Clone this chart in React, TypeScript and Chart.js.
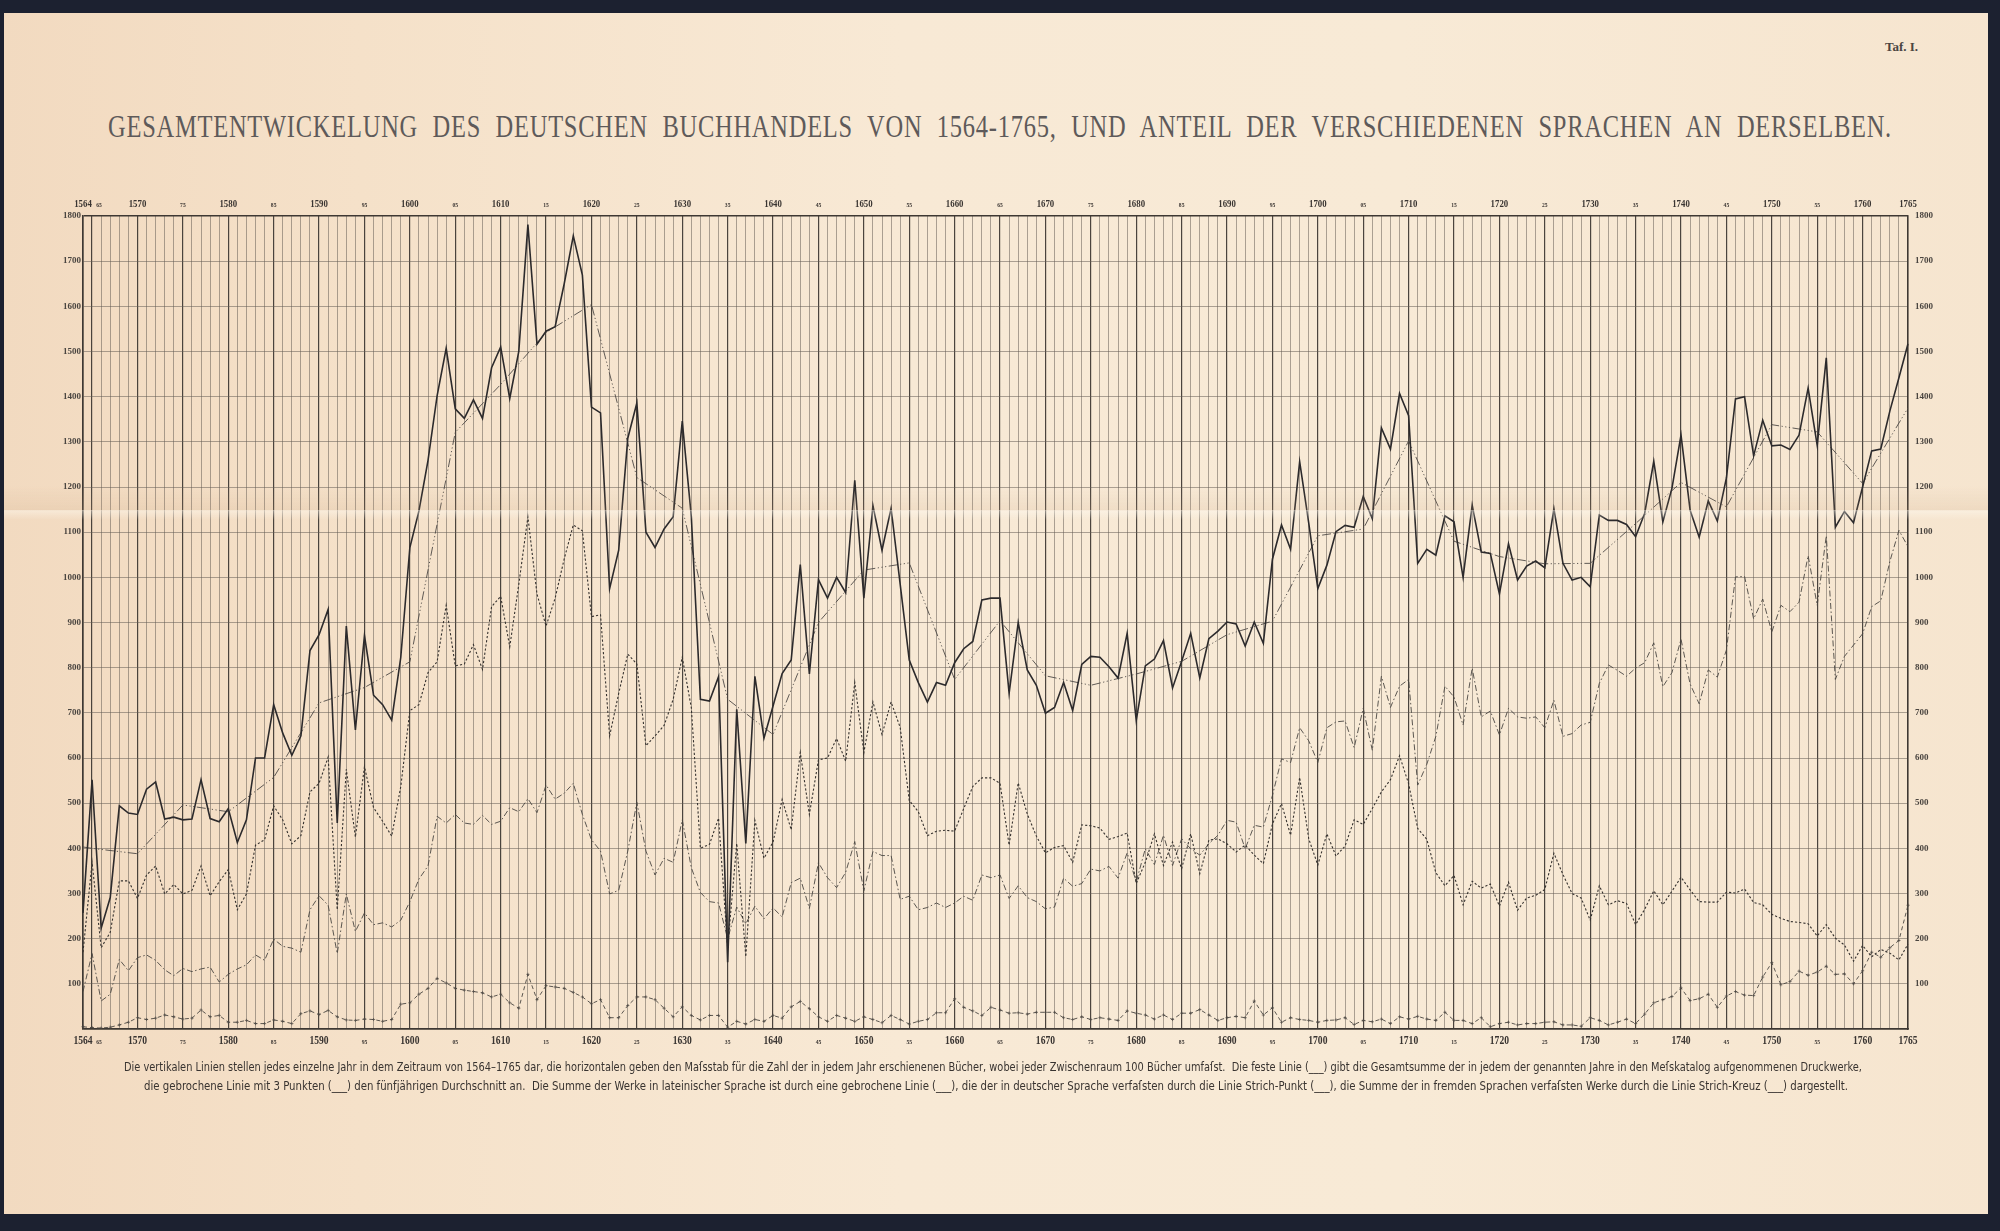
import React, { useEffect, useLayoutEffect, useRef } from "react";
import { Chart, registerables } from "chart.js";

Chart.register(...registerables);

// ---------- DATA ----------
const YEAR_START = 1564;
const YEAR_END = 1765;
const YEARS: number[] = Array.from({ length: YEAR_END - YEAR_START + 1 }, (_, i) => YEAR_START + i);

// Gesamtsumme (feste Linie), 1564–1765
const TOTAL = [
  257, 552, 223, 291, 494, 478,
  475, 531, 547, 465, 469, 463, 465, 552, 466, 459,
  488, 413, 463, 600, 600, 718, 655, 606, 649, 838,
  873, 929, 456, 892, 662, 871, 739, 718, 684, 823,
  1066, 1147, 1259, 1402, 1507, 1373, 1352, 1393, 1352, 1464,
  1510, 1396, 1501, 1781, 1516, 1545, 1555, 1650, 1756, 1669,
  1377, 1364, 975, 1060, 1308, 1386, 1100, 1066, 1107, 1134,
  1346, 1134, 730, 726, 780, 148, 708, 411, 781, 644,
  715, 787, 817, 1028, 786, 995, 954, 1000, 966, 1215,
  954, 1159, 1060, 1153, 985, 817, 767, 724, 767, 761,
  811, 842, 858, 950, 954, 954, 743, 900, 795, 761,
  699, 712, 767, 705, 807, 825, 823, 802, 777, 876,
  683, 804, 819, 860, 755, 814, 876, 777, 864, 881,
  901, 897, 848, 901, 854, 1040, 1116, 1062, 1256, 1120,
  975, 1027, 1101, 1115, 1111, 1179, 1130, 1331, 1284, 1407,
  1358, 1031, 1062, 1049, 1136, 1123, 1000, 1160, 1056, 1053,
  963, 1074, 994, 1025, 1036, 1021, 1152, 1031, 994, 1000,
  979, 1138, 1126, 1126, 1117, 1090, 1142, 1257, 1123, 1197,
  1315, 1149, 1089, 1169, 1125, 1220, 1395, 1400, 1269, 1348,
  1291, 1293, 1283, 1315, 1419, 1292, 1486, 1111, 1146, 1121,
  1200, 1280, 1284, 1368, 1442, 1517,
];

// Lateinische Sprache (gebrochene Linie)
const LATIN = [
  170, 369, 180, 214, 328, 328,
  289, 341, 361, 299, 320, 299, 307, 361, 295, 326,
  353, 264, 299, 407, 419, 494, 463, 410, 428, 525,
  544, 602, 264, 575, 425, 581, 490, 460, 427, 537,
  705, 718, 789, 813, 938, 804, 808, 851, 796, 935,
  958, 846, 985, 1134, 963, 892, 954, 1041, 1116, 1103,
  913, 917, 649, 743, 830, 808, 627, 649, 672, 730,
  823, 711, 400, 409, 467, 180, 411, 160, 462, 378,
  414, 508, 441, 612, 475, 596, 600, 643, 593, 767,
  612, 724, 652, 724, 668, 506, 481, 428, 438, 440,
  438, 488, 537, 556, 556, 544, 407, 545, 476, 427,
  390, 402, 406, 369, 452, 450, 445, 420, 426, 434,
  322, 369, 432, 362, 414, 355, 432, 344, 418, 421,
  410, 392, 407, 385, 366, 454, 499, 429, 557, 421,
  363, 432, 383, 405, 463, 453, 488, 525, 552, 605,
  543, 444, 420, 346, 317, 340, 275, 327, 312, 321,
  272, 325, 263, 290, 296, 309, 389, 342, 300, 290,
  241, 317, 275, 284, 278, 231, 265, 306, 275, 305,
  336, 308, 282, 281, 281, 303, 301, 310, 280, 275,
  254, 245, 238, 236, 233, 206, 231, 201, 186, 150,
  185, 160, 176, 168, 153, 188,
];

// Deutsche Sprache (Strich-Punkt)
const GERMAN = [
  83, 167, 62, 77, 154, 129,
  158, 164, 152, 131, 118, 134, 127, 133, 137, 104,
  121, 133, 142, 164, 152, 199, 183, 179, 170, 264,
  295, 274, 167, 299, 216, 257, 231, 235, 226, 241,
  282, 332, 361, 471, 456, 475, 456, 453, 473, 453,
  460, 490, 481, 510, 479, 540, 509, 522, 544, 475,
  419, 394, 299, 307, 394, 502, 394, 341, 378, 369,
  463, 357, 302, 282, 279, 200, 270, 233, 272, 244,
  268, 248, 324, 334, 267, 368, 335, 313, 347, 415,
  306, 393, 384, 384, 287, 294, 264, 269, 279, 269,
  279, 294, 285, 341, 335, 341, 289, 317, 291, 282,
  266, 270, 334, 316, 322, 354, 350, 360, 334, 390,
  326, 399, 364, 429, 362, 421, 399, 385, 410, 429,
  462, 458, 399, 451, 447, 517, 598, 590, 667, 638,
  590, 667, 680, 682, 623, 710, 617, 781, 712, 759,
  774, 540, 586, 648, 759, 735, 673, 799, 691, 704,
  651, 710, 691, 688, 691, 667, 728, 648, 654, 673,
  679, 765, 806, 794, 781, 799, 811, 855, 758, 789,
  863, 764, 720, 795, 779, 839, 1001, 1002, 908, 952,
  879, 938, 924, 945, 1048, 938, 1092, 774, 825, 850,
  875, 935, 948, 1035, 1104, 1068,
];

// Fremde Sprachen (Strich-Kreuz)
const FOREIGN = [
  5, 3, 2, 4, 9, 15,
  25, 21, 24, 31, 27, 22, 24, 42, 27, 30,
  15, 15, 19, 12, 12, 20, 17, 12, 34, 40,
  32, 41, 27, 20, 19, 22, 21, 17, 21, 55,
  58, 77, 90, 112, 102, 90, 86, 83, 80, 71,
  77, 58, 46, 121, 65, 96, 93, 90, 81, 71,
  56, 65, 25, 25, 52, 71, 71, 65, 46, 27,
  49, 30, 20, 30, 30, 4, 17, 11, 21, 17,
  30, 24, 49, 61, 45, 27, 17, 30, 24, 17,
  27, 21, 14, 30, 21, 11, 17, 21, 36, 36,
  67, 48, 40, 30, 48, 42, 35, 36, 33, 37,
  37, 37, 25, 21, 27, 21, 25, 22, 19, 40,
  35, 31, 22, 31, 21, 35, 35, 43, 31, 19,
  25, 28, 25, 62, 31, 47, 15, 25, 21, 19,
  15, 19, 20, 25, 10, 19, 16, 22, 12, 27,
  22, 28, 22, 19, 37, 19, 19, 12, 25, 5,
  12, 15, 9, 12, 12, 15, 16, 9, 9, 6,
  25, 19, 9, 15, 22, 12, 33, 58, 65, 72,
  91, 63, 67, 77, 48, 73, 83, 75, 74, 115,
  147, 98, 105, 128, 119, 126, 139, 121, 122, 100,
  129, 170, 159, 180, 196, 274,
];

// Fünfjähriger Durchschnitt (gebrochene Linie mit 3 Punkten) – Knotenpunkte
const AVG_YEARS = [
  1564, 1565, 1570, 1575, 1580, 1585, 1590, 1595, 1600, 1605, 1610, 1615, 1620, 1625,
  1630, 1635, 1640, 1645, 1650, 1655, 1660, 1665, 1670, 1675, 1680, 1685, 1690, 1695,
  1700, 1705, 1710, 1715, 1720, 1725, 1730, 1735, 1740, 1745, 1750, 1755, 1760, 1765,
];
const AVG_VALUES = [
  403, 400, 388, 496, 481, 557, 722, 756, 813, 1321, 1427, 1542, 1604, 1221,
  1153, 730, 652, 900, 1016, 1032, 774, 904, 782, 761, 786, 814, 873, 903,
  1092, 1107, 1302, 1080, 1046, 1030, 1031, 1119, 1210, 1156, 1338, 1322, 1208, 1375,
];

const Y_MIN = 0;
const Y_MAX = 1800;
const Y_STEP = 100;

const TITLE = "GESAMTENTWICKELUNG DES DEUTSCHEN BUCHHANDELS VON 1564-1765, UND ANTEIL DER VERSCHIEDENEN SPRACHEN AN DERSELBEN.";
const PLATE = "Taf. I.";
const CAPTION_1 =
  "Die vertikalen Linien stellen jedes einzelne Jahr in dem Zeitraum von 1564–1765 dar, die horizontalen geben den Maſsstab für die Zahl der in jedem Jahr erschienenen Bücher, wobei jeder Zwischenraum 100 Bücher umfaſst.  Die feste Linie (___) gibt die Gesamtsumme der in jedem der genannten Jahre in den Meſskatalog aufgenommenen Druckwerke,";
const CAPTION_2 =
  "die gebrochene Linie mit 3 Punkten (___) den fünfjährigen Durchschnitt an.  Die Summe der Werke in lateinischer Sprache ist durch eine gebrochene Linie (___), die der in deutscher Sprache verfaſsten durch die Linie Strich-Punkt (___), die Summe der in fremden Sprachen verfaſsten Werke durch die Linie Strich-Kreuz (___) dargestellt.";

// ---------- STYLE ----------
const INK = "#2c2a2c";
const INK_SOFT = "#4a4642";
const GRID_LIGHT = "rgba(98, 90, 82, 0.62)";
const GRID_DARK = "rgba(55, 50, 46, 0.9)";
const BORDER = "#3e3833";

function FitText(props: { text: string; left: number; top: number; width: number; style: React.CSSProperties }) {
  const ref = useRef<HTMLSpanElement>(null);
  useLayoutEffect(() => {
    const el = ref.current;
    if (!el) return;
    el.style.transform = "none";
    const w = el.getBoundingClientRect().width;
    if (w > 0) el.style.transform = `scaleX(${props.width / w})`;
  }, [props.text, props.width]);
  return (
    <span
      ref={ref}
      style={{
        position: "absolute",
        left: props.left,
        top: props.top,
        whiteSpace: "pre",
        transformOrigin: "0 0",
        display: "inline-block",
        ...props.style,
      }}
    >
      {props.text}
    </span>
  );
}

const paperPlugin = {
  id: "paperCrease",
  afterDraw(chart: any) {
    const { ctx } = chart;
    ctx.save();
    // shadow of the fold
    const g1 = ctx.createLinearGradient(0, 486, 0, 511);
    g1.addColorStop(0, "rgba(200,160,120,0)");
    g1.addColorStop(1, "rgba(200,160,120,0.16)");
    ctx.fillStyle = g1;
    ctx.fillRect(0, 486, chart.width, 25);
    // light ridge just below
    const g2 = ctx.createLinearGradient(0, 510, 0, 520);
    g2.addColorStop(0, "rgba(255,252,244,0.45)");
    g2.addColorStop(1, "rgba(255,252,244,0)");
    ctx.fillStyle = g2;
    ctx.fillRect(0, 510, chart.width, 10);
    ctx.restore();
  },
};

const yearLabelsPlugin = {
  id: "yearLabels",
  afterDraw(chart: any) {
    const { ctx, chartArea } = chart;
    const xs = chart.scales.x;
    ctx.save();
    ctx.fillStyle = "#3a3532";
    ctx.textAlign = "center";
    ctx.textBaseline = "alphabetic";
    YEARS.forEach((yr, i) => {
      let label = "";
      let big = false;
      if (yr === YEAR_START || yr === YEAR_END || yr % 10 === 0) {
        label = String(yr);
        big = true;
      } else if (yr % 5 === 0) {
        label = String(yr).slice(2);
      }
      if (!label) return;
      const dx = yr === YEAR_START + 1 ? 7 : 0;
      const x = xs.getPixelForTick(i) + dx;
      const rows: [number, string, string][] = [
        [chartArea.top - 9, 'bold 11px "Liberation Serif"', 'bold 7px "Liberation Serif"'],
        [chartArea.bottom + 15, 'bold 12px "Liberation Serif"', 'bold 7px "Liberation Serif"'],
      ];
      for (const [y, fBig, fSmall] of rows) {
        ctx.save();
        ctx.translate(x, y);
        ctx.scale(0.8, 1);
        ctx.font = big ? fBig : fSmall;
        ctx.fillText(label, 0, 0);
        ctx.restore();
      }
    });
    ctx.restore();
  },
};

export default function App() {
  const canvasRef = useRef<HTMLCanvasElement>(null);

  useEffect(() => {
    document.body.style.margin = "0";
    document.body.style.overflow = "hidden";
    const canvas = canvasRef.current;
    if (!canvas) return;

    const avgData = YEARS.map((y) => {
      const k = AVG_YEARS.indexOf(y);
      return k >= 0 ? AVG_VALUES[k] : null;
    });

    const yTickFont = { family: '"Liberation Serif"', size: 9, weight: "bold" as const };
    const isFive = (c: any) => YEARS[c.index] % 5 === 0;
    const isEdge = (c: any) => c.tick && (c.tick.value === Y_MAX || c.tick.value === Y_MIN);

    const chart = new Chart(canvas, {
      type: "line",
      data: {
        labels: YEARS.map(String),
        datasets: [
          {
            label: "Gesamtsumme",
            data: TOTAL,
            borderColor: INK,
            borderWidth: 1.6,
            pointRadius: 0,
            tension: 0,
          },
          {
            label: "Fünfjähriger Durchschnitt",
            data: avgData,
            spanGaps: true,
            borderColor: "#4e4946",
            borderWidth: 0.9,
            borderDash: [9, 2.5, 1.2, 2.5, 1.2, 2.5, 1.2, 2.5],
            pointRadius: 0,
            tension: 0,
          },
          {
            label: "Lateinisch",
            data: LATIN,
            borderColor: "#36322f",
            borderWidth: 1.1,
            borderDash: [2.2, 2],
            pointRadius: 0,
            tension: 0,
          },
          {
            label: "Deutsch",
            data: GERMAN,
            borderColor: INK_SOFT,
            borderWidth: 0.9,
            borderDash: [6, 2.5, 1.5, 2.5],
            pointRadius: 0,
            tension: 0,
          },
          {
            label: "Fremde Sprachen",
            data: FOREIGN,
            borderColor: INK_SOFT,
            borderWidth: 0.9,
            borderDash: [4, 3],
            pointStyle: "cross",
            pointRadius: 1.6,
            pointBorderWidth: 0.7,
            pointBorderColor: INK_SOFT,
            tension: 0,
          },
        ],
      },
      options: {
        responsive: false,
        animation: false,
        devicePixelRatio: 1,
        events: [],
        layout: { padding: { left: 43, right: 52, top: 216, bottom: 202 } },
        plugins: {
          legend: { display: false },
          tooltip: { enabled: false },
          title: { display: false },
        },
        scales: {
          x: {
            type: "category",
            offset: false,
            ticks: { display: false },
            grid: {
              drawTicks: false,
              color: (c: any) => (isFive(c) ? GRID_DARK : GRID_LIGHT),
              lineWidth: (c: any) => (isFive(c) ? 1.2 : 0.85),
            },
            border: { display: true, color: BORDER, width: 1.5 },
            afterFit: (s: any) => {
              s.height = 0;
            },
          },
          y: {
            position: "left",
            min: Y_MIN,
            max: Y_MAX,
            ticks: {
              stepSize: Y_STEP,
              padding: 2,
              color: "#4a4540",
              font: yTickFont,
              callback: (v: any) => (v === 0 ? "" : String(v)),
            },
            grid: {
              drawTicks: false,
              color: (c: any) => (isEdge(c) ? BORDER : GRID_LIGHT),
              lineWidth: (c: any) => (isEdge(c) ? 1.5 : 0.85),
            },
            border: { display: true, color: BORDER, width: 1.5 },
            afterFit: (s: any) => {
              s.width = 40;
            },
          },
          y2: {
            position: "right",
            min: Y_MIN,
            max: Y_MAX,
            ticks: {
              stepSize: Y_STEP,
              padding: 7,
              color: "#4a4540",
              font: yTickFont,
              callback: (v: any) => (v === 0 ? "" : String(v)),
            },
            grid: { display: false, drawTicks: false },
            border: { display: true, color: BORDER, width: 1.5 },
            afterFit: (s: any) => {
              s.width = 40;
            },
          },
        },
      },
      plugins: [paperPlugin, yearLabelsPlugin],
    });

    return () => chart.destroy();
  }, []);

  return (
    <div
      style={{
        position: "absolute",
        left: 0,
        top: 0,
        width: 2000,
        height: 1231,
        overflow: "hidden",
        background:
          "linear-gradient(90deg, #f2dac0 0%, #f5e1c9 18%, #f8e9d5 45%, #f8ead6 70%, #f6e5cf 100%)",
      }}
    >
      <FitText
        text={TITLE}
        left={108}
        top={110}
        width={1784}
        style={{
          fontFamily: '"Liberation Serif", "DejaVu Serif", serif',
          fontSize: 32,
          lineHeight: "32px",
          letterSpacing: 1,
          wordSpacing: 10,
          color: "#5e5a5a",
        }}
      />
      <span
        style={{
          position: "absolute",
          left: 1885,
          top: 40,
          fontFamily: '"Liberation Serif", serif',
          fontSize: 13,
          fontWeight: "bold",
          lineHeight: "14px",
          color: "#4a4542",
          whiteSpace: "nowrap",
        }}
      >
        {PLATE}
      </span>
      <canvas
        ref={canvasRef}
        width={2000}
        height={1231}
        style={{ position: "absolute", left: 0, top: 0, width: 2000, height: 1231 }}
      />
      <FitText
        text={CAPTION_1}
        left={124}
        top={1061}
        width={1738}
        style={{
          fontFamily: '"DejaVu Sans Condensed", "DejaVu Sans", sans-serif',
          fontSize: 12,
          lineHeight: "13px",
          color: "#383330",
        }}
      />
      <FitText
        text={CAPTION_2}
        left={144}
        top={1080}
        width={1704}
        style={{
          fontFamily: '"DejaVu Sans Condensed", "DejaVu Sans", sans-serif',
          fontSize: 12,
          lineHeight: "13px",
          color: "#383330",
        }}
      />
      <div style={{ position: "absolute", left: 0, top: 0, width: 2000, height: 13, background: "#1c2130" }} />
      <div style={{ position: "absolute", left: 0, top: 1214, width: 2000, height: 17, background: "#1c2130" }} />
      <div style={{ position: "absolute", left: 0, top: 0, width: 4, height: 1231, background: "#1c2130" }} />
      <div style={{ position: "absolute", left: 1988, top: 0, width: 12, height: 1231, background: "#1c2130" }} />
    </div>
  );
}
